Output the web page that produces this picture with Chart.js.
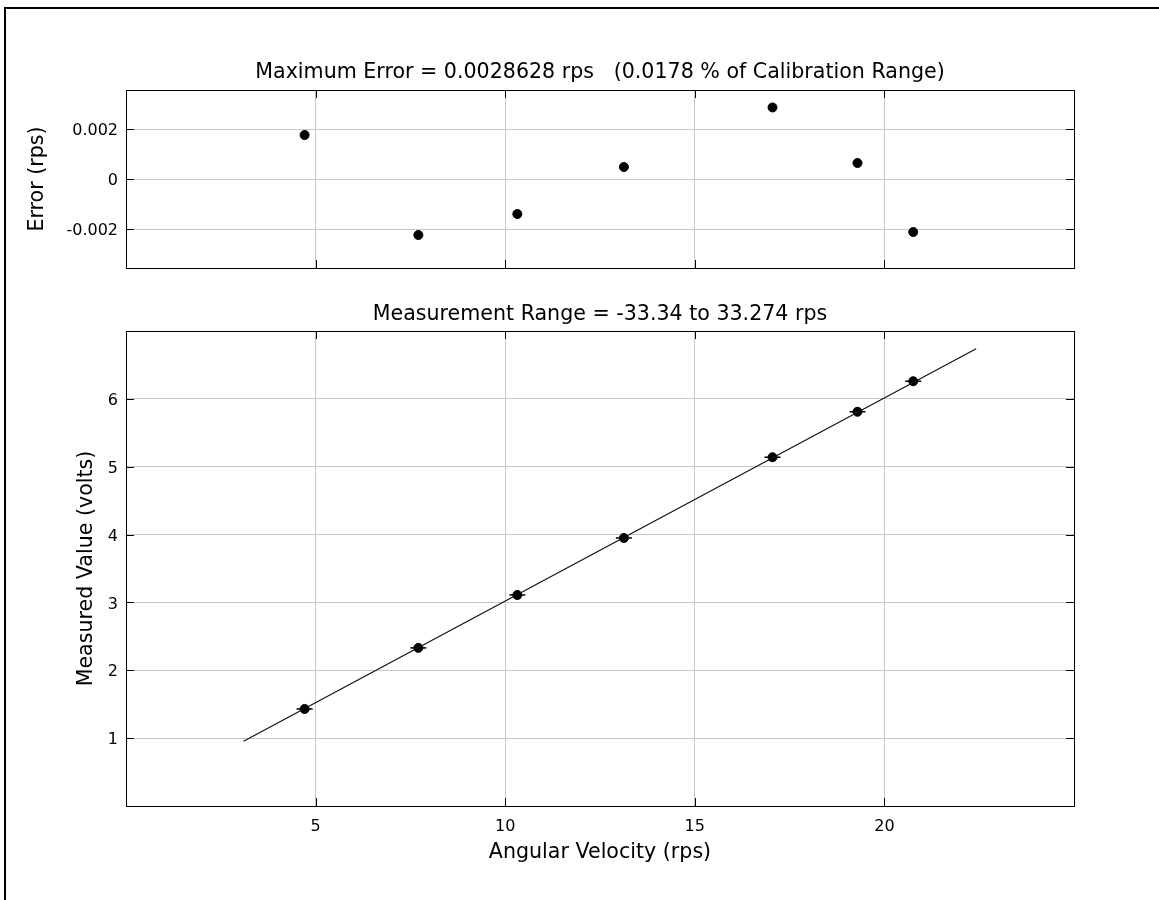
<!DOCTYPE html>
<html>
<head>
<meta charset="utf-8">
<title>Calibration</title>
<script src="https://cdn.jsdelivr.net/npm/chart.js@4.4.1/dist/chart.umd.min.js"></script>
<style>
  body { margin: 0; background: #fff; width: 1159px; height: 900px; overflow: hidden; position: relative; }
  .frame { position: absolute; left: 4px; top: 7px; width: 1200px; height: 950px; border-top: 2px solid #000; border-left: 2px solid #000; }
  .box { position: absolute; left: 0; width: 1159px; }
</style>
</head>
<body>
<div class="frame"></div>
<div class="box" style="top:0;height:300px"><canvas id="errChart"></canvas></div>
<div class="box" style="top:280px;height:620px"><canvas id="calChart"></canvas></div>
<script>
// ---- data ----
const speeds = [4.71, 7.71, 10.32, 13.13, 17.05, 19.29, 20.76];     // rps
const volts = [1.43, 2.33, 3.11, 3.95, 5.14, 5.81, 6.26];          // measured value
const errors = [0.00176, -0.00224, -0.0014, 0.00048, 0.0028628, 0.00064, -0.00212]; // rps
const fitX = [3.1, 22.42];
const fitY = [0.955, 6.74];

const xTicks = [5, 10, 15, 20];
const errTicks = [-0.002, 0, 0.002];
const voltTicks = [1, 2, 3, 4, 5, 6];

const FONT = "'DejaVu Sans', sans-serif";
Chart.defaults.font.family = FONT;
Chart.defaults.color = "#000";
Chart.defaults.animation = false;

function pts(xs, ys) {
  return xs.map((x, i) => ({ x: x, y: ys[i] }));
}

// draw short inward tick marks on all four sides of the plot box
const innerTicks = {
  id: "innerTicks",
  beforeDraw(chart) {
    // digits sit a bit high with a "middle" baseline, nudge y labels down
    chart.scales.y.getLabelItems(chart.chartArea).forEach((it) => {
      if (!it._nudged) {
        it.options.translation[1] += 2;
        it._nudged = true;
      }
    });
  },
  afterDraw(chart) {
    const ctx = chart.ctx;
    const a = chart.chartArea;
    const len = 8;
    ctx.save();
    ctx.strokeStyle = "#000";
    ctx.lineWidth = 1;
    ctx.beginPath();
    chart.scales.x.ticks.forEach((t) => {
      const px = Math.round(chart.scales.x.getPixelForValue(t.value)) + 0.5;
      ctx.moveTo(px, a.bottom); ctx.lineTo(px, a.bottom - len);
      ctx.moveTo(px, a.top); ctx.lineTo(px, a.top + len);
    });
    chart.scales.y.ticks.forEach((t) => {
      const py = Math.round(chart.scales.y.getPixelForValue(t.value)) + 0.5;
      ctx.moveTo(a.left, py); ctx.lineTo(a.left + len, py);
      ctx.moveTo(a.right, py); ctx.lineTo(a.right - len, py);
    });
    ctx.stroke();
    ctx.strokeRect(Math.round(a.left) + 0.5, Math.round(a.top) + 0.5, Math.round(a.right - a.left), Math.round(a.bottom - a.top));
    ctx.restore();
  },
};

function fixedTicks(list) {
  return (scale) => {
    scale.ticks = list.map((v) => ({ value: v }));
  };
}

const grid = { color: "#c8c8c8", lineWidth: 1, drawTicks: false };

// ---- error plot ----
new Chart(document.getElementById("errChart"), {
  type: "scatter",
  data: {
    datasets: [
      {
        data: pts(speeds, errors),
        backgroundColor: "#000",
        borderColor: "#000",
        pointRadius: 4.5,
      },
    ],
  },
  options: {
    responsive: true,
    maintainAspectRatio: false,
    layout: { padding: { top: 60.7, right: 85, bottom: 0, left: 25.7 } },
    plugins: {
      legend: { display: false },
      tooltip: { enabled: false },
      title: {
        display: true,
        fullSize: false,
        text: "Maximum Error = 0.0028628 rps   (0.0178 % of Calibration Range)",
        font: { size: 20.6, weight: "normal", lineHeight: 1.2 },
        color: "#000",
        padding: { top: 0, bottom: 4.6 },
      },
    },
    scales: {
      x: {
        type: "linear",
        min: 0,
        max: 25,
        afterBuildTicks: fixedTicks(xTicks),
        afterFit: (s) => { s.height = 32; },
        grid: grid,
        border: { display: false },
        ticks: { display: false },
      },
      y: {
        min: -0.00356,
        max: 0.00356,
        afterBuildTicks: fixedTicks(errTicks),
        afterFit: (s) => { s.width = 100.3; },
        grid: grid,
        border: { display: false },
        ticks: {
          font: { size: 16 },
          padding: 8,
          callback: (v) => (v === 0 ? "0" : v.toFixed(3)),
        },
        title: {
          display: true,
          text: "Error (rps)",
          font: { size: 20.6, lineHeight: 1.2 },
          padding: 0,
        },
      },
    },
  },
  plugins: [innerTicks],
});

// ---- calibration plot ----
new Chart(document.getElementById("calChart"), {
  type: "scatter",
  data: {
    datasets: [
      {
        // fitted line
        type: "line",
        data: pts(fitX, fitY),
        borderColor: "#111",
        borderWidth: 1.2,
        pointRadius: 0,
        fill: false,
      },
      {
        // horizontal error bars
        data: pts(speeds, volts),
        pointStyle: "line",
        pointRadius: 8,
        borderColor: "#000",
        borderWidth: 1.5,
      },
      {
        data: pts(speeds, volts),
        backgroundColor: "#000",
        borderColor: "#000",
        pointRadius: 4.5,
      },
    ],
  },
  options: {
    responsive: true,
    maintainAspectRatio: false,
    layout: { padding: { top: 22.7, right: 85, bottom: 34.7, left: 74.7 } },
    plugins: {
      legend: { display: false },
      tooltip: { enabled: false },
      title: {
        display: true,
        fullSize: false,
        text: "Measurement Range = -33.34 to 33.274 rps",
        font: { size: 20.6, weight: "normal", lineHeight: 1.2 },
        color: "#000",
        padding: { top: 0, bottom: 3.6 },
      },
    },
    scales: {
      x: {
        type: "linear",
        min: 0,
        max: 25,
        afterBuildTicks: fixedTicks(xTicks),
        afterFit: (s) => { s.height = 59.3; },
        grid: grid,
        border: { display: false },
        ticks: { font: { size: 16 }, padding: 11 },
        title: {
          display: true,
          text: "Angular Velocity (rps)",
          font: { size: 20.6, lineHeight: 1.2 },
          padding: 0,
        },
      },
      y: {
        min: 0,
        max: 7,
        afterBuildTicks: fixedTicks(voltTicks),
        afterFit: (s) => { s.width = 51.3; },
        grid: grid,
        border: { display: false },
        ticks: { font: { size: 16 }, padding: 8 },
        title: {
          display: true,
          text: "Measured Value (volts)",
          font: { size: 20.6, lineHeight: 1.2 },
          padding: 0,
        },
      },
    },
  },
  plugins: [innerTicks],
});
</script>
</body>
</html>
